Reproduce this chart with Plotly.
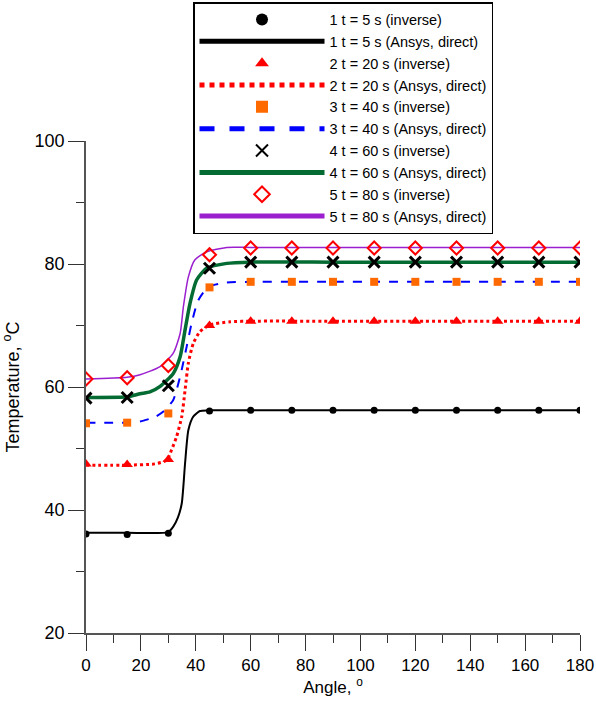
import plotly.graph_objects as go

# Pontos do método inverso (ângulo, graus)
angles = [0, 15, 30, 45, 60, 75, 90, 105, 120, 135, 150, 165, 180]
inv_5s = [36.1, 36.0, 36.2, 56.1, 56.2, 56.2, 56.2, 56.2, 56.2, 56.2, 56.2, 56.2, 56.2]
inv_20s = [47.5, 47.4, 48.2, 70.0, 70.7, 70.7, 70.7, 70.7, 70.7, 70.7, 70.7, 70.7, 70.7]
inv_40s = [54.1, 54.2, 55.7, 76.2, 77.1, 77.1, 77.1, 77.1, 77.1, 77.1, 77.1, 77.1, 77.1]
inv_60s = [58.2, 58.3, 60.2, 79.3, 80.3, 80.3, 80.3, 80.3, 80.3, 80.3, 80.3, 80.3, 80.3]
inv_80s = [61.3, 61.5, 63.5, 81.5, 82.6, 82.6, 82.6, 82.6, 82.6, 82.6, 82.6, 82.6, 82.6]

# Curvas Ansys (solução direta)
ans_5s_x = [0, 15, 29.9, 31.8, 33.5, 34.9, 36.1, 37.3, 39.1, 41.5, 44.6, 60, 90, 120, 150, 180]
ans_5s_y = [36.3, 36.3, 36.4, 37.3, 38.8, 41.1, 47.6, 53.0, 55.2, 56.1, 56.2, 56.2, 56.2, 56.2, 56.2, 56.2]
ans_20s_x = [0, 15, 25, 29.4, 31.2, 33.0, 34.9, 36.1, 37.3, 39.1, 41.5, 45.2, 52.5, 60, 90, 120, 150, 180]
ans_20s_y = [47.3, 47.3, 47.5, 48.1, 49.8, 51.9, 55.2, 59.5, 63.9, 67.1, 69.0, 70.1, 70.6, 70.7, 70.7, 70.7, 70.7, 70.7]
ans_40s_x = [0, 15, 19.7, 25, 28.2, 31.8, 34.3, 36.7, 38.5, 40.9, 44.6, 51.3, 60, 90, 120, 150, 180]
ans_40s_y = [54.2, 54.2, 54.4, 55.1, 56.0, 57.9, 61.7, 66.6, 70.4, 74.1, 76.3, 77.0, 77.1, 77.1, 77.1, 77.1, 77.1]
ans_60s_x = [0, 15, 19.7, 23.3, 27.0, 31.8, 34.3, 36.1, 37.9, 40.3, 44.0, 51.3, 60, 90, 120, 150, 180]
ans_60s_y = [58.3, 58.4, 58.9, 59.2, 60.1, 62.2, 64.9, 69.3, 73.6, 77.4, 79.3, 80.1, 80.3, 80.3, 80.3, 80.3, 80.3]
ans_80s_x = [0, 15, 19.7, 27.0, 31.8, 34.3, 35.5, 37.3, 39.7, 44.0, 51.3, 60, 90, 120, 150, 180]
ans_80s_y = [61.3, 61.6, 62.0, 63.3, 65.5, 68.7, 73.1, 77.9, 80.7, 82.0, 82.7, 82.7, 82.7, 82.7, 82.7, 82.7]

fonte = "Liberation Sans, Arial, sans-serif"

fig = go.Figure()

# Curvas Ansys primeiro (ficam por baixo dos marcadores)
fig.add_trace(go.Scatter(x=ans_5s_x, y=ans_5s_y, mode='lines', name='1 t = 5 s (Ansys, direct)',
                         line=dict(color='black', width=2, shape='spline', smoothing=0.6), legendrank=2))
fig.add_trace(go.Scatter(x=ans_20s_x, y=ans_20s_y, mode='lines', name='2 t = 20 s (Ansys, direct)',
                         line=dict(color='red', width=3, dash='dot', shape='spline', smoothing=0.6), legendrank=4))
fig.add_trace(go.Scatter(x=ans_40s_x, y=ans_40s_y, mode='lines', name='3 t = 40 s (Ansys, direct)',
                         line=dict(color='blue', width=2, dash='dash', shape='spline', smoothing=0.6), legendrank=6))
fig.add_trace(go.Scatter(x=ans_60s_x, y=ans_60s_y, mode='lines', name='4 t = 60 s (Ansys, direct)',
                         line=dict(color='#046b32', width=3.5, shape='spline', smoothing=0.6), legendrank=8))
fig.add_trace(go.Scatter(x=ans_80s_x, y=ans_80s_y, mode='lines', name='5 t = 80 s (Ansys, direct)',
                         line=dict(color='#9b1fcf', width=1.5, shape='spline', smoothing=0.6), legendrank=10))

# Pontos inversos
fig.add_trace(go.Scatter(x=angles, y=inv_5s, mode='markers', name='1 t = 5 s (inverse)',
                         marker=dict(symbol='circle', size=7, color='black'), legendrank=1))
fig.add_trace(go.Scatter(x=angles, y=inv_20s, mode='markers', name='2 t = 20 s (inverse)',
                         marker=dict(symbol='triangle-up', size=10, color='red'), legendrank=3))
fig.add_trace(go.Scatter(x=angles, y=inv_40s, mode='markers', name='3 t = 40 s (inverse)',
                         marker=dict(symbol='square', size=8, color='#ff6a00'), legendrank=5))
fig.add_trace(go.Scatter(x=angles, y=inv_60s, mode='markers', name='4 t = 60 s (inverse)',
                         marker=dict(symbol='x-thin', size=11, color='black',
                                     line=dict(width=3, color='black')), legendrank=7))
fig.add_trace(go.Scatter(x=angles, y=inv_80s, mode='markers', name='5 t = 80 s (inverse)',
                         marker=dict(symbol='diamond-open', size=10, color='red',
                                     line=dict(width=2, color='red')), legendrank=9))

fig.update_layout(
    width=596, height=704,
    margin=dict(l=86, r=16, t=141, b=71, autoexpand=False),
    plot_bgcolor='white', paper_bgcolor='white',
    font=dict(family=fonte, size=16, color='black'),
    legend=dict(
        x=0.2166, y=1.2825, xanchor='left', yanchor='top',
        bgcolor='white', bordercolor='black', borderwidth=1.5,
        font=dict(size=14.5), itemsizing='constant', itemwidth=125,
        tracegroupgap=0, traceorder='normal',
    ),
    xaxis=dict(
        title=dict(text='Angle, <sup>o</sup>', font=dict(size=17), standoff=6),
        range=[0, 180], tick0=0, dtick=20, showgrid=False, zeroline=False,
        showline=True, linecolor='#555', linewidth=1.5,
        ticks='outside', ticklen=16, tickwidth=1.2, tickcolor='#333',
        minor=dict(dtick=10, ticks='outside', ticklen=8, tickwidth=1.2, tickcolor='#333'),
        tickfont=dict(size=17),
    ),
    yaxis=dict(
        title=dict(text='Temperature, <sup>o</sup>C', font=dict(size=18), standoff=12),
        range=[20, 100], tick0=20, dtick=20, showgrid=False, zeroline=False,
        showline=True, linecolor='#555', linewidth=1.5,
        ticks='outside', ticklen=16, tickwidth=1.2, tickcolor='#333',
        minor=dict(dtick=10, ticks='outside', ticklen=8, tickwidth=1.2, tickcolor='#333'),
        tickfont=dict(size=18),
    ),
)

# Remove a margem padrão da página para o gráfico ocupar a janela toda
fig.write_html("out.html", config={'displayModeBar': False},
               post_script="document.body.style.margin='0';")
